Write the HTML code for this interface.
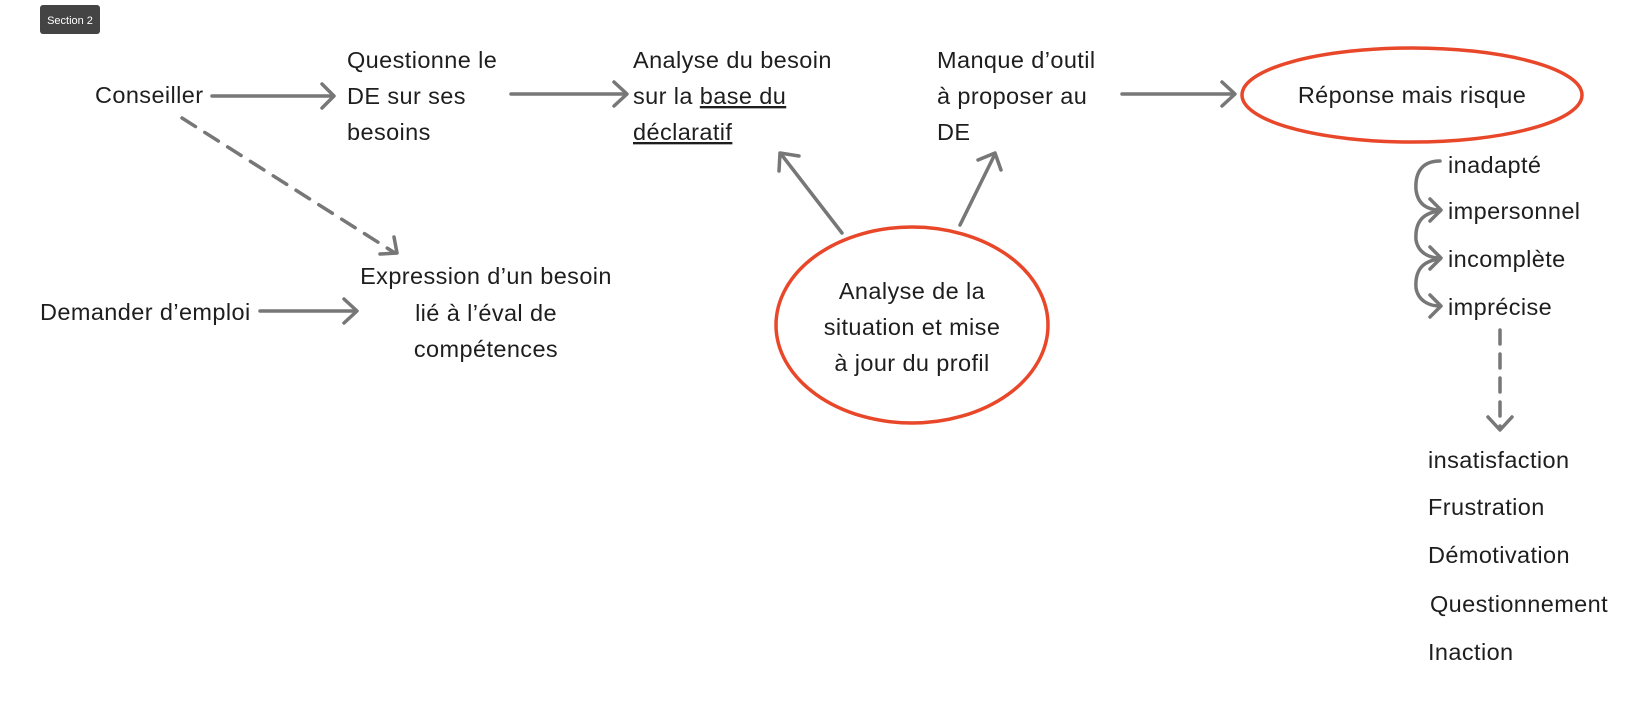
<!DOCTYPE html>
<html><head><meta charset="utf-8"><style>
html,body{margin:0;padding:0;background:#fff;}
svg{display:block;}
text{font-family:"Liberation Sans",sans-serif;font-size:23.5px;letter-spacing:0.4px;fill:#1e1e1e;}
</style></head><body>
<svg width="1652" height="707" viewBox="0 0 1652 707" xmlns="http://www.w3.org/2000/svg">
<rect x="40" y="5" width="60" height="29" rx="3" fill="#444"/>
<text x="70" y="24" text-anchor="middle" style="font-size:11px;letter-spacing:0;fill:#fff">Section 2</text>
<g stroke="#777" stroke-width="3.5" fill="none" stroke-linecap="round" stroke-linejoin="round">
<line x1="212" y1="96" x2="332" y2="96"/><polyline points="322,84 334,96 322,108"/>
<line x1="511" y1="94" x2="626" y2="94"/><polyline points="614,82 627,94 614,106"/>
<line x1="1122" y1="94" x2="1234" y2="94"/><polyline points="1222,82 1235,94 1222,106"/>
<line x1="260" y1="311" x2="356" y2="311"/><polyline points="344,299 357,311 344,323"/>
<line x1="182" y1="118" x2="395" y2="253" stroke-dasharray="16,11"/><polyline points="380,254 397,253 394,237"/>
<line x1="842" y1="233" x2="781" y2="154"/><polyline points="779,171 780,153 799,156"/>
<line x1="960" y1="225" x2="995" y2="154"/><polyline points="978,160 995,153 1001,170"/>
<path d="M1440,161 C1420,161 1415,175 1416,190 C1418,205 1428,210 1440,210"/><polyline points="1430,199 1441,210 1430,221"/>
<path d="M1440,211 C1420,213 1415,225 1416,240 C1418,252 1428,258 1440,258"/><polyline points="1430,247 1441,258 1430,269"/>
<path d="M1440,259 C1420,261 1415,273 1416,288 C1418,300 1428,306 1440,306"/><polyline points="1430,295 1441,306 1430,317"/>
<line x1="1500" y1="330" x2="1500" y2="428" stroke-dasharray="14,10"/><polyline points="1488,417 1500,430 1512,417"/>
</g>
<ellipse cx="1412" cy="95" rx="170" ry="47" fill="none" stroke="#E8472A" stroke-width="3.5"/>
<ellipse cx="912" cy="325" rx="136" ry="98" fill="none" stroke="#E8472A" stroke-width="3.5"/>
<text x="95" y="103">Conseiller</text>
<text x="347" y="68">Questionne le</text>
<text x="347" y="104">DE sur ses</text>
<text x="347" y="140">besoins</text>
<text x="633" y="68">Analyse du besoin</text>
<text x="633" y="104">sur la <tspan style="text-decoration:underline">base du</tspan></text>
<text x="633" y="140"><tspan style="text-decoration:underline">déclaratif</tspan></text>
<text x="937" y="68">Manque d’outil</text>
<text x="937" y="104">à proposer au</text>
<text x="937" y="140">DE</text>
<text x="1412" y="103" text-anchor="middle">Réponse mais risque</text>
<text x="40" y="320">Demander d’emploi</text>
<text x="486" y="284" text-anchor="middle">Expression d’un besoin</text>
<text x="486" y="321" text-anchor="middle">lié à l’éval de</text>
<text x="486" y="357" text-anchor="middle">compétences</text>
<text x="912" y="299" text-anchor="middle">Analyse de la</text>
<text x="912" y="335" text-anchor="middle">situation et mise</text>
<text x="912" y="371" text-anchor="middle">à jour du profil</text>
<text x="1448" y="173">inadapté</text>
<text x="1448" y="219">impersonnel</text>
<text x="1448" y="267">incomplète</text>
<text x="1448" y="315">imprécise</text>
<text x="1428" y="468">insatisfaction</text>
<text x="1428" y="515">Frustration</text>
<text x="1428" y="563">Démotivation</text>
<text x="1430" y="612">Questionnement</text>
<text x="1428" y="660">Inaction</text>
</svg>
</body></html>
